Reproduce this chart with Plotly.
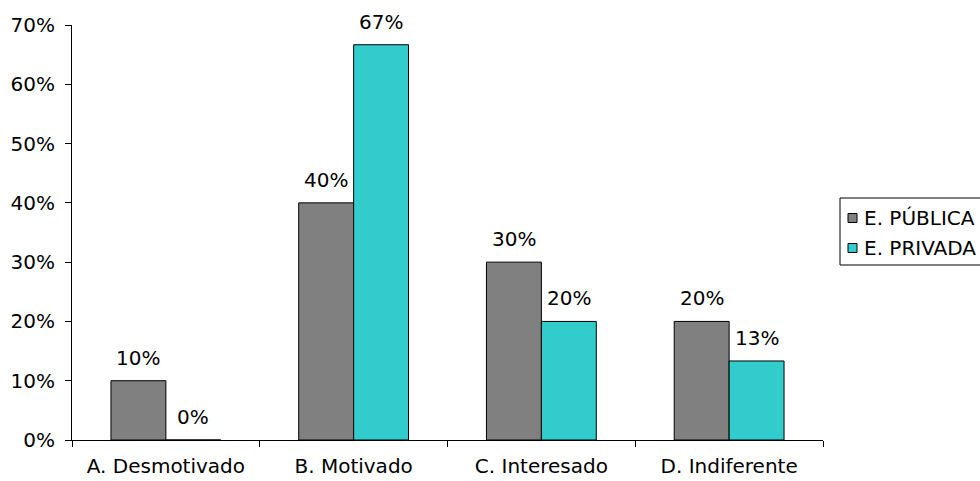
import plotly.graph_objects as go

categories = ["A. Desmotivado", "B. Motivado", "C. Interesado", "D. Indiferente"]
publica = [0.10, 0.40, 0.30, 0.20]
privada = [0.0, 0.6667, 0.20, 0.1333]
series_names = ["E. PÚBLICA", "E. PRIVADA"]
y_ticks = [0, 0.1, 0.2, 0.3, 0.4, 0.5, 0.6, 0.7]

FONT = dict(family="DejaVu Sans, Verdana, sans-serif", size=20, color="#000000")
colors = ["#808080", "#33CCCC"]

W, H = 980, 481
L, R, T, B = 72, 157, 25, 41
bargap = 0.415
plot_w = W - L - R
plot_h = H - T - B
cat_w = plot_w / len(categories)
bar_w = cat_w * (1 - bargap) / 2


def px_x(px):
    return (px - L) / plot_w


def px_y(py):
    return (H - B - py) / plot_h


fig = go.Figure()
for name, vals, col in zip(series_names, [publica, privada], colors):
    fig.add_trace(go.Bar(
        x=categories, y=vals, name=name, showlegend=False,
        marker=dict(color=col, line=dict(color="#000000", width=1)),
    ))

# value labels above each bar
for k, vals in enumerate([publica, privada]):
    shift = (k - 0.5) * bar_w
    for c, v in zip(categories, vals):
        fig.add_annotation(
            x=c, y=v, text=f"{v:.0%}", showarrow=False,
            xref="x", yref="y", xshift=shift, yshift=9,
            yanchor="bottom", font=FONT,
        )

# legend box with square swatches
box_l, box_t, box_b = 840, 198, 265
fig.add_shape(type="rect", xref="paper", yref="paper",
              x0=px_x(box_l), x1=px_x(W + 10), y0=px_y(box_b), y1=px_y(box_t),
              line=dict(color="#000000", width=1), fillcolor="white", layer="above")
for i, (name, col) in enumerate(zip(series_names, colors)):
    cy = 218 + i * 30
    fig.add_shape(type="rect", xref="paper", yref="paper",
                  x0=px_x(848), x1=px_x(857), y0=px_y(cy + 4.5), y1=px_y(cy - 4.5),
                  line=dict(color="#000000", width=1), fillcolor=col, layer="above")
    fig.add_annotation(x=px_x(862), y=px_y(cy), xref="paper", yref="paper",
                       text=name, showarrow=False, xanchor="left", yanchor="middle",
                       font=FONT)

fig.update_layout(
    width=W, height=H,
    margin=dict(l=L, r=R, t=T, b=B, autoexpand=False),
    paper_bgcolor="white", plot_bgcolor="white",
    barmode="group", bargap=bargap, bargroupgap=0,
    font=FONT,
    showlegend=False,
    xaxis=dict(
        showline=True, linecolor="#000000", linewidth=1,
        ticks="outside", ticklen=6, tickcolor="#000000",
        tickson="boundaries", showgrid=False, zeroline=False,
        tickfont=FONT, ticklabelstandoff=8,
    ),
    yaxis=dict(
        range=[0, 0.7], tickvals=y_ticks, tickformat=".0%",
        showline=True, linecolor="#000000", linewidth=1,
        ticks="outside", ticklen=6, tickcolor="#000000",
        showgrid=False, zeroline=False, tickfont=FONT,
        ticklabelstandoff=6,
    ),
)

fig.write_html("out.html")
